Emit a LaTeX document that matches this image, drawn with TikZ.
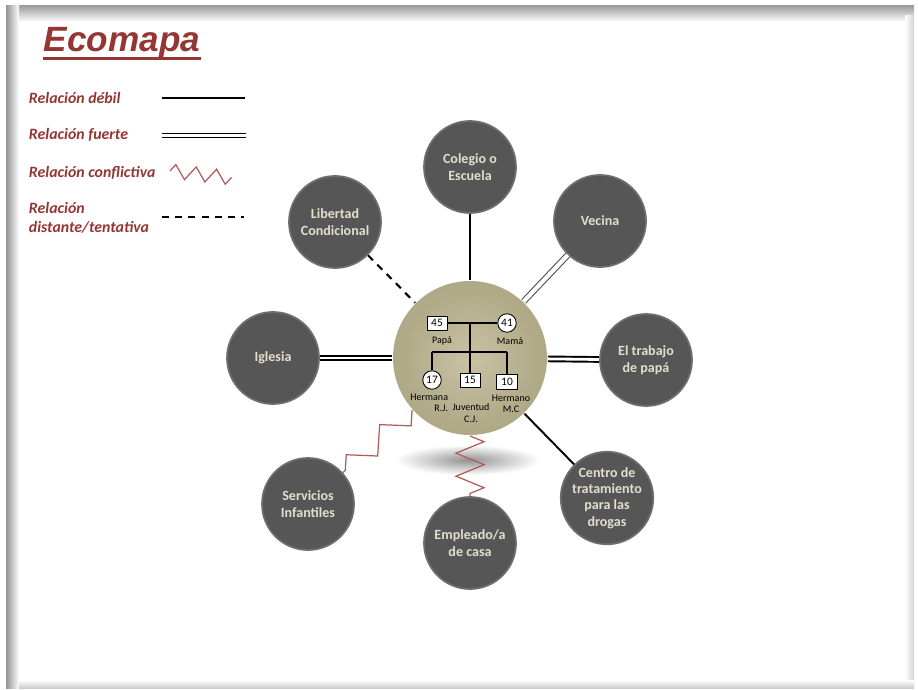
\documentclass[tikz,border=0pt]{standalone}
\usepackage{fontspec}
\setmainfont{Carlito}
\newfontfamily\titlefont{Liberation Sans}
\usetikzlibrary{decorations.pathmorphing}
\definecolor{ecored}{HTML}{943634}
\definecolor{zigred}{HTML}{B05C5A}
\definecolor{circgray}{HTML}{565656}
\definecolor{circrim}{HTML}{6E6E6E}
\definecolor{circtext}{HTML}{E2DECB}
\definecolor{famlight}{HTML}{C9C3A4}
\definecolor{fammid}{HTML}{B1AA89}
\definecolor{famdark}{HTML}{8E8664}
\pgfdeclareradialshading{famshade}{\pgfpoint{0bp}{0bp}}{color(0bp)=(famlight); color(22bp)=(fammid); color(44bp)=(fammid!80!famdark); color(50bp)=(famdark)}
\begin{document}
\begin{tikzpicture}[x=0.02cm, y=-0.02cm, line width=1.1pt,
  ext node/.style={circle, fill=circgray, draw=circrim, line width=1pt, minimum size=1.84cm, inner sep=0pt, align=center, text=circtext, font=\bfseries\fontsize{8}{9.3}\selectfont},
  fam node/.style={circle, shade, shading=famshade, minimum size=3.08cm, inner sep=0pt},
  man node/.style={rectangle, draw=black, fill=white, line width=0.5pt, minimum width=0.4cm, minimum height=0.28cm, inner sep=0pt, font=\fontsize{6.5}{7}\selectfont},
  woman node/.style={circle, draw=black, fill=white, line width=0.5pt, minimum size=0.37cm, inner sep=0pt, font=\fontsize{6.5}{7}\selectfont},
  name node/.style={inner sep=0pt, font=\fontsize{5.7}{6.4}\selectfont},
  legend node/.style={anchor=west, inner sep=0pt, align=left, text=ecored, font=\bfseries\itshape\fontsize{9}{10.8}\selectfont},
  weak line/.style={draw=black, line width=1.1pt},
  strong line/.style={draw=black, double=white, double distance=1.6pt, line width=1.1pt},
  conflict line/.style={draw=zigred, line width=0.7pt, decorate, decoration={zigzag, segment length=0.46cm, amplitude=0.28cm}},
  distant line/.style={draw=black, line width=1.2pt, dash pattern=on 4pt off 3.5pt}]
\useasboundingbox (0,0) rectangle (918,689);
% marco
\fill[white] (0,0) rectangle (918,689);
\fill[gray!75] (6,6) rectangle (914,688);
\fill[white] (12,12) rectangle (912,686);
\shade[top color=gray!75, bottom color=white] (6,6) rectangle (914,22);
\shade[left color=gray!85, right color=white] (6,6) rectangle (19,688);
\shade[left color=white, right color=gray!35] (905,16) rectangle (914,688);
\shade[top color=white, bottom color=gray!40] (19,680) rectangle (914,688);
% titulo y leyenda
\node[anchor=base west, inner sep=0pt, text=ecored, font=\titlefont\bfseries\itshape\fontsize{20}{23}\selectfont] (title) at (43,52) {Ecomapa};
\draw[ecored, line width=1.5pt] ([yshift=-3.8pt]title.base west) -- ([yshift=-3.8pt]title.base east);
\node[legend node] (ldebil) at (28,98) {Relación débil};
\node[legend node] (lfuerte) at (28,135) {Relación fuerte};
\node[legend node] (lconflic) at (28,173) {Relación conflictiva};
\node[legend node] (ldistante) at (28,218) {Relación\\distante/tentativa};
\coordinate (debil a) at (162,98);
\coordinate (debil b) at (245,98);
\coordinate (fuerte a) at (162,135.5);
\coordinate (fuerte b) at (246,135.5);
\coordinate (conflic a) at (170,171);
\coordinate (conflic b) at (232,178);
\coordinate (distante a) at (162,217);
\coordinate (distante b) at (244,217);
\draw[weak line] (debil a) -- (debil b);
\draw[strong line, double distance=1.2pt] (fuerte a) -- (fuerte b);
\draw[conflict line, decoration={segment length=0.41cm, amplitude=0.14cm}] (conflic a) -- (conflic b);
\draw[distant line] (distante a) -- (distante b);
% sombra
\shade[inner color=gray!85, outer color=white] (468,460) ellipse [x radius=1.45cm, y radius=0.3cm];
% nodos
\node[fam node] (familia) at (470,358) {};
\node[ext node] (colegio) at (470,167) {Colegio o\\Escuela};
\node[ext node] (libertad) at (335,222) {Libertad\\Condicional};
\node[ext node] (vecina) at (600,221) {Vecina};
\node[ext node] (iglesia) at (273,358) {Iglesia};
\node[ext node] (trabajo) at (646,360) {El trabajo\\de papá};
\node[ext node] (servicios) at (308,504) {Servicios\\Infantiles};
\node[ext node] (empleado) at (470,543) {Empleado/a\\de casa};
\node[ext node] (centro) at (607,498) {Centro de\\tratamiento\\para las\\drogas};
% relaciones
\draw[weak line] (colegio) -- (familia);
\draw[distant line] (libertad) -- (familia);
\draw[strong line, draw=gray!60!black, line width=0.6pt, double distance=2.4pt] (vecina) -- (familia);
\draw[strong line] (iglesia) -- (familia);
\draw[strong line] (trabajo) -- (familia);
\draw[conflict line, decoration={segment length=0.9cm, amplitude=0.22cm}] (familia) -- (servicios);
\draw[conflict line] (familia) -- (empleado);
\draw[weak line] (familia) -- (centro);
% genograma
\node[man node] (papa) at (437,323) {45};
\node[woman node] (mama) at (507,323) {41};
\node[woman node] (hermana) at (432,380) {17};
\node[man node] (juventud) at (470,380) {15};
\node[man node, minimum width=0.42cm, minimum height=0.31cm] (hermano) at (507,382) {10};
\node[name node] (npapa) at (442,341) {Papá};
\node[name node] (nmama) at (510,341) {Mamá};
\node[name node, anchor=north east, align=right] (nhermana) at (449,393) {Hermana\\R.J.};
\node[name node, anchor=north, align=center] (njuventud) at (471,403) {Juventud\\C.J.};
\node[name node, anchor=north, align=center] (nhermano) at (511,394) {Hermano\\M.C};
\coordinate (union) at (470,323);
\coordinate (hijos l) at (432,352);
\coordinate (hijos r) at (507,352);
\begin{scope}[line width=0.6pt]
\draw (papa) -- (mama);
\draw (union) -- (juventud);
\draw (hijos l) -- (hijos r);
\draw (hijos l) -- (hermana);
\draw (hijos r) -- (hermano);
\end{scope}
\end{tikzpicture}
\end{document}
